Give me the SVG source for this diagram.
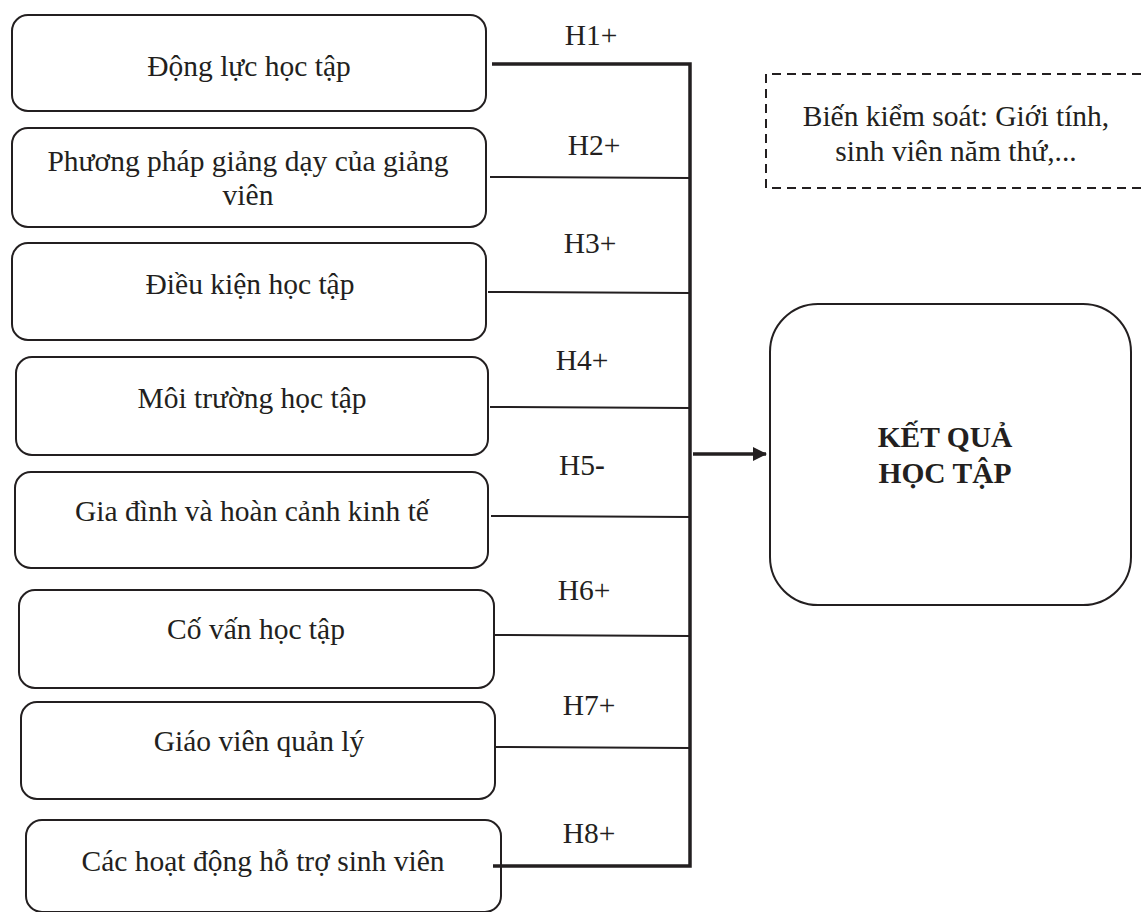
<svg xmlns="http://www.w3.org/2000/svg" width="1141" height="912" viewBox="0 0 1141 912">
  <defs>
    <marker id="arrow" viewBox="0 0 14 14" refX="13" refY="7" markerWidth="14" markerHeight="14" orient="auto" markerUnits="userSpaceOnUse">
      <path d="M0,0 L14,7 L0,14 Z" fill="#231f20"/>
    </marker>
  </defs>
  <style>
    .box { fill: #ffffff; stroke: #231f20; stroke-width: 2; }
    .dash { fill: none; stroke: #231f20; stroke-width: 2; stroke-dasharray: 9 6; }
    .t { font-family: "Liberation Serif", "Times New Roman", serif; font-size: 29.5px; fill: #231f20; text-anchor: middle; }
    .b { font-weight: bold; }
    .ln { fill: none; stroke: #231f20; stroke-width: 2; }
    .thick { fill: none; stroke: #231f20; stroke-width: 3.5; }
  </style>
  <rect width="1141" height="912" fill="#ffffff"/>

  <!-- factor nodes -->
  <g id="n1">
    <rect class="box" x="12" y="15" width="474" height="96" rx="16"/>
    <text class="t" x="249" y="76">Động lực học tập</text>
  </g>
  <g id="n2">
    <rect class="box" x="12" y="128" width="474" height="99" rx="16"/>
    <text class="t" x="248" y="171">Phương pháp giảng dạy của giảng</text>
    <text class="t" x="248" y="205">viên</text>
  </g>
  <g id="n3">
    <rect class="box" x="12" y="243" width="474" height="97" rx="16"/>
    <text class="t" x="250" y="294">Điều kiện học tập</text>
  </g>
  <g id="n4">
    <rect class="box" x="16" y="357" width="472" height="98" rx="16"/>
    <text class="t" x="252" y="408">Môi trường học tập</text>
  </g>
  <g id="n5">
    <rect class="box" x="15" y="472" width="473" height="96" rx="16"/>
    <text class="t" x="252" y="521">Gia đình và hoàn cảnh kinh tế</text>
  </g>
  <g id="n6">
    <rect class="box" x="19" y="590" width="475" height="98" rx="16"/>
    <text class="t" x="256" y="639">Cố vấn học tập</text>
  </g>
  <g id="n7">
    <rect class="box" x="21" y="702" width="474" height="97" rx="16"/>
    <text class="t" x="259" y="751">Giáo viên quản lý</text>
  </g>
  <g id="n8">
    <rect class="box" x="26" y="820" width="475" height="92" rx="16"/>
    <text class="t" x="263" y="871">Các hoạt động hỗ trợ sinh viên</text>
  </g>

  <!-- outcome node -->
  <g id="outcome">
    <rect class="box" x="770" y="304" width="361" height="301" rx="48"/>
    <text class="t b" x="945" y="447">KẾT QUẢ</text>
    <text class="t b" x="945" y="483">HỌC TẬP</text>
  </g>

  <!-- control variables -->
  <g id="controls">
    <path class="dash" d="M1141,74 H766 V188 H1141"/>
    <text class="t" x="956" y="126">Biến kiểm soát: Giới tính,</text>
    <text class="t" x="956" y="161">sinh viên năm thứ,...</text>
  </g>

  <!-- connectors -->
  <g id="connectors">
    <path class="thick" d="M492,64 H690 V866 H493"/>
    <line class="ln" x1="490" y1="177" x2="690" y2="178"/>
    <line class="ln" x1="488" y1="292" x2="690" y2="293"/>
    <line class="ln" x1="490" y1="407" x2="690" y2="408"/>
    <line class="ln" x1="491" y1="516" x2="690" y2="517"/>
    <line class="ln" x1="495" y1="635" x2="690" y2="636"/>
    <line class="ln" x1="496" y1="747" x2="690" y2="748"/>
    <line class="thick" x1="693" y1="454" x2="766" y2="454" marker-end="url(#arrow)"/>
  </g>

  <!-- hypothesis labels -->
  <g id="labels">
    <text class="t" x="591" y="45">H1+</text>
    <text class="t" x="594" y="155">H2+</text>
    <text class="t" x="590" y="253">H3+</text>
    <text class="t" x="582" y="370">H4+</text>
    <text class="t" x="582" y="475">H5<tspan class="b">-</tspan></text>
    <text class="t" x="584" y="600">H6+</text>
    <text class="t" x="589" y="715">H7+</text>
    <text class="t" x="589" y="843">H8+</text>
  </g>
</svg>
